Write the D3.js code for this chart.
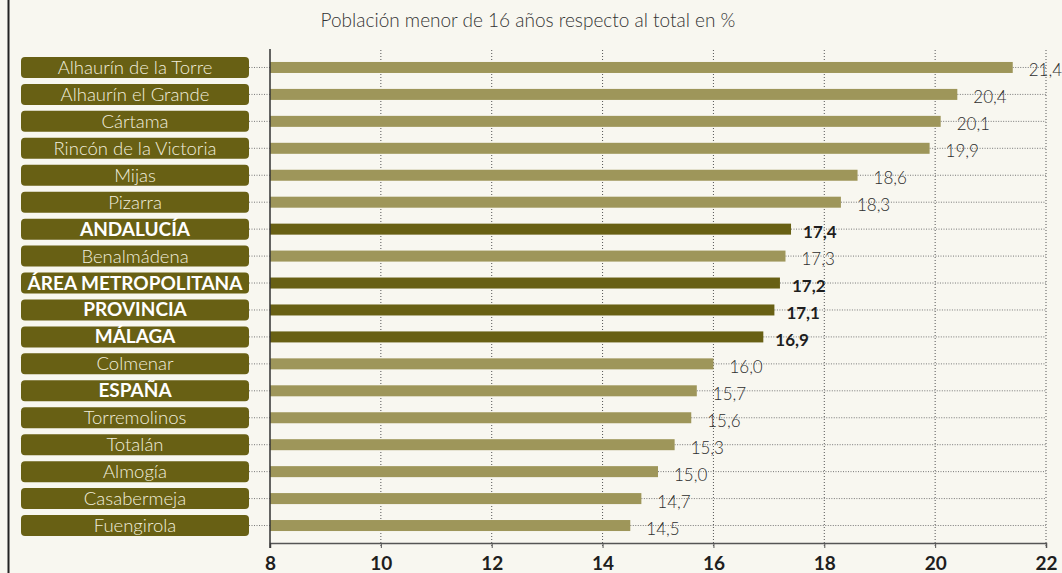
<!DOCTYPE html>
<html>
<head>
<meta charset="utf-8">
<script src="https://cdn.jsdelivr.net/npm/d3@7"></script>
<style>
  body { margin: 0; background: #f8f7f0; }
  svg { display: block; }
</style>
</head>
<body>
<svg id="chart" width="1062" height="573"></svg>
<script>
// data
var names = ["Alhaurín de la Torre", "Alhaurín el Grande", "Cártama", "Rincón de la Victoria",
  "Mijas", "Pizarra", "ANDALUCÍA", "Benalmádena", "ÁREA METROPOLITANA", "PROVINCIA",
  "MÁLAGA", "Colmenar", "ESPAÑA", "Torremolinos", "Totalán", "Almogía", "Casabermeja", "Fuengirola"]
var values = [21.4, 20.4, 20.1, 19.9, 18.6, 18.3, 17.4, 17.3, 17.2, 17.1, 16.9, 16.0, 15.7, 15.6, 15.3, 15.0, 14.7, 14.5]
var boldNames = ["ANDALUCÍA", "ÁREA METROPOLITANA", "PROVINCIA", "MÁLAGA", "ESPAÑA"]
var darkBars = ["ANDALUCÍA", "ÁREA METROPOLITANA", "PROVINCIA", "MÁLAGA"]
var ticks = [8, 10, 12, 14, 16, 18, 20, 22]
var title = "Población menor de 16 años respecto al total en %"

var svg = d3.select("#chart")
var font = "Lato, 'Noto Sans', sans-serif"

var x = d3.scaleLinear().domain([8, 22]).range([270, 1046])
var y = d3.scaleBand().domain(names).range([54, 539]).paddingInner(0)
var isBold = d => boldNames.indexOf(d) >= 0
var isDark = d => darkBars.indexOf(d) >= 0
var cy = d => y(d) + y.bandwidth() / 2

svg.append("rect").attr("width", 1062).attr("height", 573).attr("fill", "#f8f7f0")

// left frame line
svg.append("line").attr("x1", 8.5).attr("x2", 8.5).attr("y1", 0).attr("y2", 573)
  .attr("stroke", "#222").attr("stroke-width", 2)

svg.append("text").attr("x", 528).attr("y", 27).attr("text-anchor", "middle")
  .attr("font-family", font).attr("font-weight", 300).attr("font-size", 19)
  .attr("fill", "#333").text(title)

// vertical gridlines
svg.append("g").selectAll("line").data(ticks.slice(1)).join("line")
  .attr("x1", d => x(d)).attr("x2", d => x(d))
  .attr("y1", 50).attr("y2", 548)
  .attr("stroke", "#555").attr("stroke-width", 1).attr("stroke-dasharray", "1,2")

// dotted row lines
var rows = svg.append("g")
rows.selectAll("line.left").data(names).join("line").attr("class", "left")
  .attr("x1", 249).attr("x2", 270).attr("y1", cy).attr("y2", cy)
  .attr("stroke", "#777").attr("stroke-dasharray", "1,1.5")
rows.selectAll("line.right").data(names).join("line").attr("class", "right")
  .attr("x1", (d, i) => x(values[i])).attr("x2", x(22)).attr("y1", cy).attr("y2", cy)
  .attr("stroke", "#777").attr("stroke-dasharray", "1,1.5")

// bars
svg.append("g").selectAll("rect").data(names).join("rect")
  .attr("x", x(8)).attr("y", d => cy(d) - 5.5)
  .attr("width", (d, i) => x(values[i]) - x(8)).attr("height", 11)
  .attr("fill", d => isDark(d) ? "#686014" : "#9e965a")

// value labels
svg.append("g").selectAll("text").data(names).join("text")
  .attr("x", (d, i) => x(values[i]) + (isDark(d) ? 12 : 16)).attr("y", d => cy(d) + 9)
  .attr("font-family", font).attr("font-size", 17)
  .attr("font-weight", d => isDark(d) ? 700 : 300)
  .attr("fill", d => isDark(d) ? "#1e1e1e" : "#2e2e2e")
  .text((d, i) => d3.format(".1f")(values[i]).replace(".", ","))

// name boxes
var boxes = svg.append("g").selectAll("g").data(names).join("g")
boxes.append("rect").attr("x", 21).attr("y", d => cy(d) - 10.5)
  .attr("width", 228).attr("height", 21).attr("rx", 4)
  .attr("fill", "#686014")
boxes.append("text").attr("x", 135).attr("y", d => cy(d) + 6.5)
  .attr("text-anchor", "middle").attr("font-family", font)
  .attr("font-size", d => isBold(d) ? 19 : 18.5)
  .attr("font-weight", d => isBold(d) ? 700 : 300)
  .attr("fill", d => isBold(d) ? "#ffffff" : "#f1eedc")
  .text(d => d)

// axes
var xAxis = svg.append("g").attr("transform", "translate(0,543)")
  .call(d3.axisBottom(x).tickValues(ticks).tickSize(5).tickFormat(d3.format("d")))
xAxis.select(".domain").attr("stroke", "#555").attr("stroke-width", 1.5)
xAxis.selectAll(".tick line").attr("stroke", "#555")
xAxis.selectAll(".tick text").attr("font-family", font).attr("font-weight", 700)
  .attr("font-size", 19).attr("fill", "#1e1e1e").attr("dy", "1.0em")

svg.append("line").attr("x1", x(8)).attr("x2", x(8)).attr("y1", 49).attr("y2", 548)
  .attr("stroke", "#333").attr("stroke-width", 1.5)
</script>
</body>
</html>
